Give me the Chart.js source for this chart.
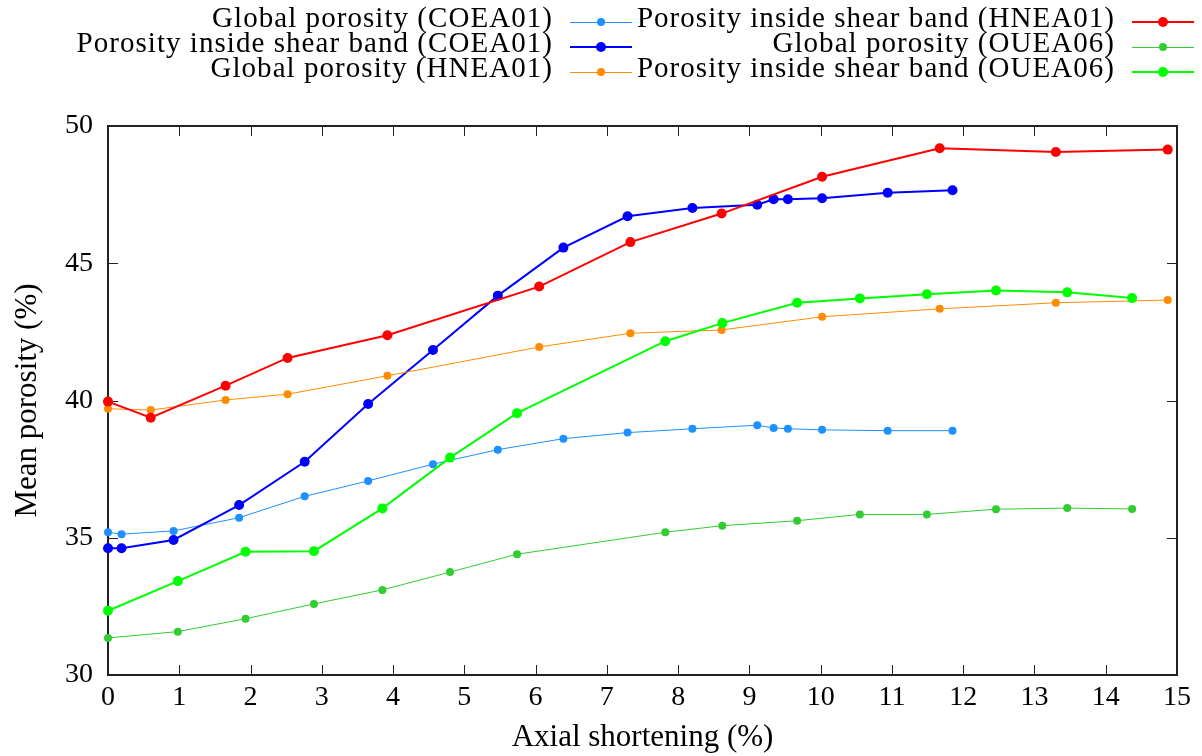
<!DOCTYPE html>
<html>
<head>
<meta charset="utf-8">
<script src="https://cdn.jsdelivr.net/npm/chart.js@4.4.1/dist/chart.umd.min.js"></script>
<style>
  html, body { margin: 0; padding: 0; background: #fff; }
  #wrap { position: relative; width: 1202px; height: 756px; }
  #legend { position: absolute; left: 0; top: 0; width: 1202px; height: 100px;
    font-family: "Liberation Serif", serif; font-size: 29px; letter-spacing: 1.05px; color: #000; }
  .label { position: absolute; white-space: nowrap; text-align: right; line-height: 29px; }
  .sample { position: absolute; width: 62px; height: 12px; }
  .sample .line { position: absolute; left: 0; right: 0; top: 50%; }
  .sample .dot { position: absolute; left: 50%; top: 50%; border-radius: 50%; }
</style>
</head>
<body>
<div id="wrap">
  <canvas id="chart" width="1202" height="756"></canvas>
  <div id="legend"></div>
</div>
<script>
const FONT = '"Liberation Serif", serif';

// axial shortening (%) for each test
const coeaX = [0, 0.19, 0.92, 1.84, 2.76, 3.65, 4.56, 5.47, 6.39, 7.29, 8.20, 9.11, 9.34, 9.54, 10.02, 10.94, 11.85];
const hneaX = [0, 0.60, 1.65, 2.52, 3.92, 6.05, 7.33, 8.61, 10.02, 11.67, 13.30, 14.87];
const oueaX = [0, 0.98, 1.93, 2.89, 3.85, 4.80, 5.74, 7.82, 8.62, 9.67, 10.55, 11.49, 12.46, 13.46, 14.37];

// mean porosity (%)
const coeaGlobal = [35.20, 35.13, 35.25, 35.73, 36.51, 37.07, 37.68, 38.21, 38.61, 38.83, 38.97, 39.10, 39.00, 38.97, 38.93, 38.90, 38.90];
const coeaBand = [34.62, 34.62, 34.92, 36.19, 37.77, 39.87, 41.84, 43.82, 45.57, 46.71, 47.01, 47.13, 47.33, 47.33, 47.37, 47.57, 47.66];
const hneaGlobal = [39.70, 39.65, 40.02, 40.23, 40.90, 41.95, 42.45, 42.57, 43.05, 43.34, 43.56, 43.66];
const hneaBand = [39.96, 39.37, 40.54, 41.55, 42.38, 44.15, 45.77, 46.81, 48.15, 49.19, 49.05, 49.14];
const oueaGlobal = [31.35, 31.58, 32.05, 32.59, 33.10, 33.75, 34.40, 35.20, 35.44, 35.62, 35.85, 35.85, 36.04, 36.08, 36.05];
const oueaBand = [32.34, 33.42, 34.49, 34.51, 36.07, 37.92, 39.54, 42.16, 42.82, 43.56, 43.72, 43.87, 44.01, 43.94, 43.73];

const xTicks = [0, 1, 2, 3, 4, 5, 6, 7, 8, 9, 10, 11, 12, 13, 14, 15];
const yTicks = [30, 35, 40, 45, 50];

const series = [
  { label: "Global porosity (COEA01)", xs: coeaX, ys: coeaGlobal, color: "#1e90ff", band: false },
  { label: "Porosity inside shear band (COEA01)", xs: coeaX, ys: coeaBand, color: "#0000ff", band: true },
  { label: "Global porosity (HNEA01)", xs: hneaX, ys: hneaGlobal, color: "#ff8c00", band: false },
  { label: "Porosity inside shear band (HNEA01)", xs: hneaX, ys: hneaBand, color: "#ff0000", band: true },
  { label: "Global porosity (OUEA06)", xs: oueaX, ys: oueaGlobal, color: "#32cd32", band: false },
  { label: "Porosity inside shear band (OUEA06)", xs: oueaX, ys: oueaBand, color: "#00ff00", band: true },
];

const datasets = series.map((s, i) => ({
  label: s.label,
  data: s.xs.map((x, j) => ({ x: x, y: s.ys[j] })),
  borderColor: s.color,
  backgroundColor: s.color,
  borderWidth: s.band ? 2 : 1,
  pointRadius: s.band ? 5 : 4,
  pointBorderWidth: 0,
  pointBackgroundColor: s.color,
  tension: 0,
  clip: false,
  order: -i,
}));

// gnuplot style frame with inward ticks
const frame = {
  id: "frame",
  beforeDatasetsDraw(chart) {
    const { ctx, chartArea: a, scales: { x, y } } = chart;
    ctx.save();
    ctx.strokeStyle = "#222";
    ctx.lineWidth = 1;
    ctx.beginPath();
    xTicks.forEach(v => {
      const px = Math.round(x.getPixelForValue(v)) + 0.5;
      ctx.moveTo(px, a.bottom); ctx.lineTo(px, a.bottom - 10);
      ctx.moveTo(px, a.top); ctx.lineTo(px, a.top + 10);
    });
    yTicks.forEach(v => {
      const py = Math.round(y.getPixelForValue(v)) + 0.5;
      ctx.moveTo(a.left, py); ctx.lineTo(a.left + 10, py);
      ctx.moveTo(a.right, py); ctx.lineTo(a.right - 10, py);
    });
    ctx.stroke();
    ctx.lineWidth = 2;
    ctx.strokeRect(a.left, a.top, a.right - a.left, a.bottom - a.top);
    ctx.restore();
  }
};

new Chart(document.getElementById("chart"), {
  type: "line",
  data: { datasets },
  options: {
    responsive: false,
    animation: false,
    devicePixelRatio: 1,
    layout: { padding: { top: 126, right: 25, left: 0, bottom: 0 } },
    plugins: { legend: { display: false }, tooltip: { enabled: false } },
    scales: {
      x: {
        type: "linear", min: 0, max: 15,
        afterBuildTicks: s => { s.ticks = xTicks.map(v => ({ value: v })); },
        afterFit: s => { s.height = 81; },
        ticks: { color: "#000", font: { family: FONT, size: 28 }, padding: 6, maxRotation: 0 },
        grid: { display: false, drawTicks: false },
        border: { display: false },
        title: { display: true, text: "Axial shortening (%)", color: "#000",
                 font: { family: FONT, size: 31 }, padding: { top: 0, bottom: 0 } },
      },
      y: {
        type: "linear", min: 30, max: 50,
        afterBuildTicks: s => { s.ticks = yTicks.map(v => ({ value: v })); },
        afterFit: s => { s.width = 108; },
        ticks: { color: "#000", font: { family: FONT, size: 28 }, padding: 15 },
        grid: { display: false, drawTicks: false },
        border: { display: false },
        title: { display: true, text: "Mean porosity (%)", color: "#000",
                 font: { family: FONT, size: 31 }, padding: { top: 9, bottom: 0 } },
      },
    },
  },
  plugins: [frame],
});

// key: 3 rows, filled column by column, text right aligned before the sample
const legend = document.getElementById("legend");
const colTextRight = [553, 1115];
const colSampleLeft = [570, 1132];
const rowBaseline = [27, 52, 77];
series.forEach((s, i) => {
  const col = Math.floor(i / 3), row = i % 3;
  const lab = document.createElement("div");
  lab.className = "label";
  lab.textContent = s.label;
  lab.style.right = (1202 - colTextRight[col]) + "px";
  lab.style.top = (rowBaseline[row] - 24) + "px";
  legend.appendChild(lab);

  const smp = document.createElement("div");
  smp.className = "sample";
  smp.style.left = colSampleLeft[col] + "px";
  smp.style.top = (rowBaseline[row] - 5 - 6) + "px";
  const w = s.band ? 2 : 1, r = s.band ? 5 : 4;
  const line = document.createElement("div");
  line.className = "line";
  line.style.height = w + "px";
  line.style.marginTop = (-w / 2) + "px";
  line.style.background = s.color;
  const dot = document.createElement("div");
  dot.className = "dot";
  dot.style.width = dot.style.height = (2 * r) + "px";
  dot.style.marginLeft = dot.style.marginTop = (-r) + "px";
  dot.style.background = s.color;
  smp.appendChild(line);
  smp.appendChild(dot);
  legend.appendChild(smp);
});
</script>
</body>
</html>
